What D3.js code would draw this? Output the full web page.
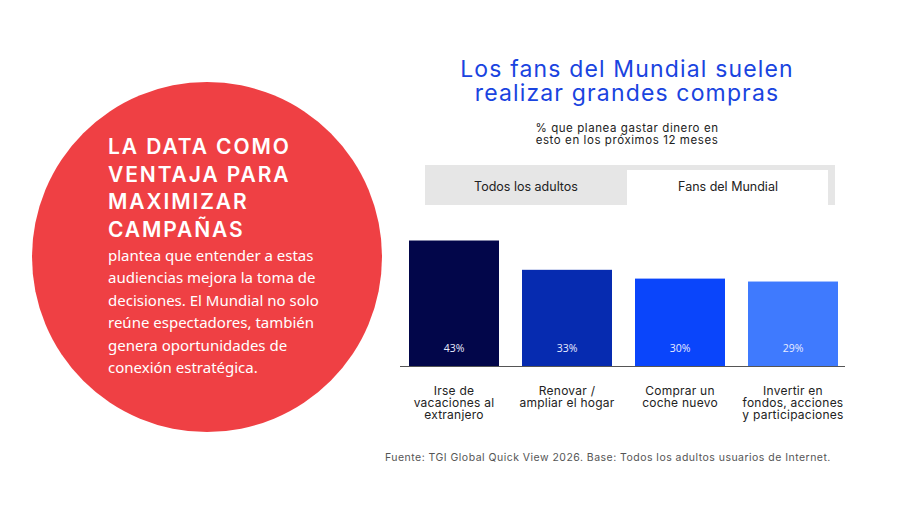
<!DOCTYPE html>
<html>
<head>
<meta charset="utf-8">
<script src="https://cdn.jsdelivr.net/npm/d3@7"></script>
<style>
  html, body { margin: 0; padding: 0; background: #fff; }
  svg { display: block; }
</style>
</head>
<body>
<div id="chart"></div>
<script>
(function () {
    'use strict';

    // data
    var categories = ['Irse de vacaciones al extranjero', 'Renovar / ampliar el hogar',
        'Comprar un coche nuevo', 'Invertir en fondos, acciones y participaciones'];
    var categoryLines = [
        ['Irse de', 'vacaciones al', 'extranjero'],
        ['Renovar /', 'ampliar el hogar'],
        ['Comprar un', 'coche nuevo'],
        ['Invertir en', 'fondos, acciones', 'y participaciones']
    ];
    var values = [43, 33, 30, 29];
    var barColors = ['#02064a', '#062bb0', '#0a45fb', '#3f7afe'];
    var tabs = ['Todos los adultos', 'Fans del Mundial'];

    var headingLines = ['LA DATA COMO', 'VENTAJA PARA', 'MAXIMIZAR', 'CAMPAÑAS'];
    var bodyLines = ['plantea que entender a estas', 'audiencias mejora la toma de',
        'decisiones. El Mundial no solo', 'reúne espectadores, también',
        'genera oportunidades de', 'conexión estratégica.'];
    var titleLines = ['Los fans del Mundial suelen', 'realizar grandes compras'];
    var subtitleLines = ['% que planea gastar dinero en', 'esto en los próximos 12 meses'];
    var source = 'Fuente: TGI Global Quick View 2026. Base: Todos los adultos usuarios de Internet.';

    var width = 919, height = 516;

    var svg = d3.select('#chart').append('svg')
        .attr('width', width)
        .attr('height', height);

    // left circle
    svg.append('circle')
        .attr('cx', 207)
        .attr('cy', 257)
        .attr('r', 175)
        .attr('fill', '#ef4044');

    svg.append('g')
        .selectAll('text')
        .data(headingLines).enter()
        .append('text')
        .attr('x', 108)
        .attr('y', function (d, i) { return 154 + i * 27.5; })
        .attr('fill', '#fff')
        .style('font-family', 'Inter, sans-serif')
        .style('font-weight', 600)
        .style('font-size', '21px')
        .style('letter-spacing', '1.9px')
        .text(function (d) { return d; });

    svg.append('g')
        .selectAll('text')
        .data(bodyLines).enter()
        .append('text')
        .attr('x', 108)
        .attr('y', function (d, i) { return 261 + i * 22.4; })
        .attr('fill', '#fff')
        .style('font-family', '"Noto Sans", sans-serif')
        .style('font-size', '15px')
        .text(function (d) { return d; });

    // titles
    svg.append('g')
        .selectAll('text')
        .data(titleLines).enter()
        .append('text')
        .attr('x', 627)
        .attr('y', function (d, i) { return 77 + i * 24; })
        .attr('text-anchor', 'middle')
        .attr('fill', '#1a44e0')
        .style('font-family', 'Inter, sans-serif')
        .style('font-size', '23px')
        .style('letter-spacing', '0.05em')
        .text(function (d) { return d; });

    svg.append('g')
        .selectAll('text')
        .data(subtitleLines).enter()
        .append('text')
        .attr('x', 627)
        .attr('y', function (d, i) { return 132 + i * 12; })
        .attr('text-anchor', 'middle')
        .attr('fill', '#222')
        .style('font-family', 'Inter, sans-serif')
        .style('font-size', '11.5px')
        .style('letter-spacing', '0.05em')
        .text(function (d) { return d; });

    // tabs
    svg.append('rect')
        .attr('x', 425).attr('y', 165)
        .attr('width', 410).attr('height', 40)
        .attr('fill', '#e6e6e6');
    svg.append('rect')
        .attr('x', 627).attr('y', 170)
        .attr('width', 201).attr('height', 35)
        .attr('fill', '#fff');
    var tabX = d3.scaleBand().domain(tabs).range([425, 829]);
    svg.append('g')
        .selectAll('text')
        .data(tabs).enter()
        .append('text')
        .attr('x', function (d) { return tabX(d) + tabX.bandwidth() / 2; })
        .attr('y', 190.5)
        .attr('text-anchor', 'middle')
        .attr('fill', '#222')
        .style('font-family', 'Inter, sans-serif')
        .style('font-size', '12.5px')
        .text(function (d) { return d; });

    // bars
    var x = d3.scaleBand()
        .domain(categories)
        .range([409, 838])
        .paddingInner(23 / 113)
        .paddingOuter(0);
    var y = d3.scaleLinear()
        .domain([0, 50])
        .range([366.5, 220]);

    svg.append('g')
        .selectAll('rect')
        .data(values).enter()
        .append('rect')
        .attr('x', function (d, i) { return x(categories[i]); })
        .attr('y', function (d) { return y(d); })
        .attr('width', x.bandwidth())
        .attr('height', function (d) { return y(0) - y(d); })
        .attr('fill', function (d, i) { return barColors[i]; });

    svg.append('g')
        .selectAll('text')
        .data(values).enter()
        .append('text')
        .attr('x', function (d, i) { return x(categories[i]) + x.bandwidth() / 2; })
        .attr('y', 352)
        .attr('text-anchor', 'middle')
        .attr('fill', '#e8ecff')
        .style('font-family', '"Open Sans", sans-serif')
        .style('font-size', '10.5px')
        .text(function (d) { return d + '%'; });

    // baseline
    svg.append('line')
        .attr('x1', 400).attr('x2', 845)
        .attr('y1', y(0)).attr('y2', y(0))
        .attr('stroke', '#555')
        .attr('stroke-width', 1.2);

    // category labels
    var labels = svg.append('g')
        .selectAll('text')
        .data(categoryLines).enter()
        .append('text')
        .attr('text-anchor', 'middle')
        .attr('fill', '#222')
        .style('font-family', 'Inter, sans-serif')
        .style('font-size', '12px')
        .style('letter-spacing', '0.02em');
    labels.selectAll('tspan')
        .data(function (d, i) { return d.map(function (l) { return { line: l, i: i }; }); })
        .enter()
        .append('tspan')
        .attr('x', function (d) { return x(categories[d.i]) + x.bandwidth() / 2; })
        .attr('y', function (d, j) { return 395 + j * 12; })
        .text(function (d) { return d.line; });

    // source
    svg.append('text')
        .attr('x', 385)
        .attr('y', 461)
        .attr('fill', '#555')
        .style('font-family', 'Inter, sans-serif')
        .style('font-size', '10.5px')
        .style('letter-spacing', '0.045em')
        .text(source);
})();
</script>
</body>
</html>
